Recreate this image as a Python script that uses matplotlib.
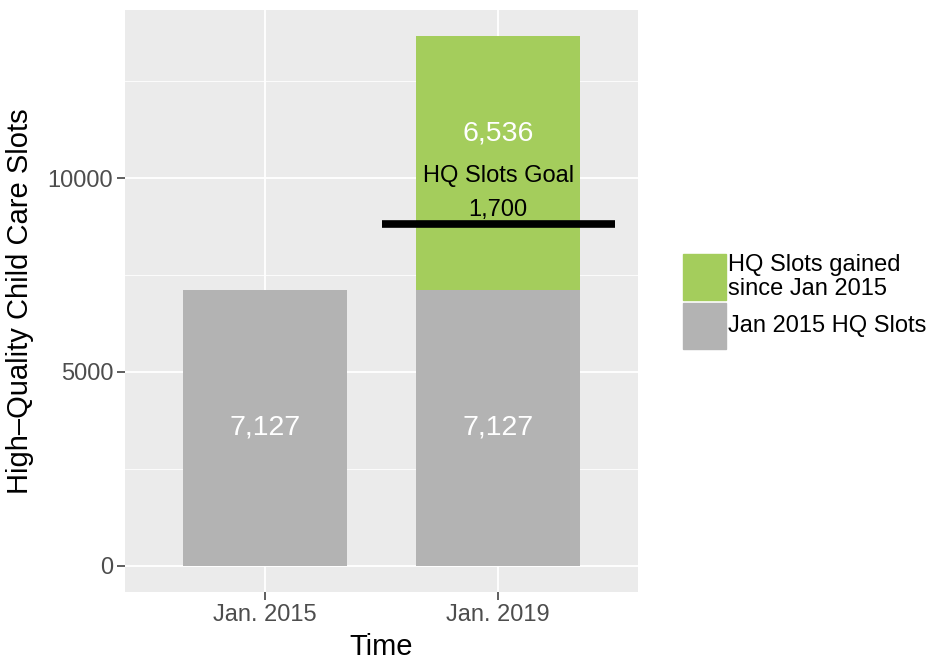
import matplotlib.pyplot as plt
import matplotlib.patches as mpatches

plt.rcParams['font.family'] = ['Liberation Sans', 'DejaVu Sans']

# data
categories = ['Jan. 2015', 'Jan. 2019']
base_slots = [7127, 7127]
gained_slots = [0, 6536]
goal_extra = 1700
gained_label_y = 11150
goal_text_y = 10060
goal_num_y = 9170
legend_labels = ['HQ Slots gained\nsince Jan 2015', 'Jan 2015 HQ Slots']

green = '#A4CD5C'
grey = '#B3B3B3'
W, H = 930, 660

fig = plt.figure(figsize=(9.3, 6.6), dpi=100)
ax = fig.add_axes([125 / W, 1 - 592 / H, 513 / W, 582 / H])
ax.set_facecolor('#EBEBEB')

x = range(len(categories))
ax.bar(x, base_slots, width=0.7, color=grey, zorder=2)
ax.bar(x, gained_slots, width=0.7, bottom=base_slots, color=green, zorder=2)

# labels inside bars
for i, v in enumerate(base_slots):
    ax.text(i, v / 2, f'{v:,}', color='white', fontsize=20.5, ha='center', va='center', zorder=4)
ax.text(1, gained_label_y, f'{gained_slots[1]:,}', color='white', fontsize=20.5,
        ha='center', va='center', zorder=4)

# goal line
goal = base_slots[0] + goal_extra
ax.plot([0.5, 1.5], [goal, goal], color='black', linewidth=5.5, solid_capstyle='butt', zorder=3)
ax.text(1, goal_text_y, 'HQ Slots Goal', fontsize=17, ha='center', va='center', zorder=4)
ax.text(1, goal_num_y, f'{goal_extra:,}', fontsize=17, ha='center', va='center', zorder=4)

top = base_slots[1] + gained_slots[1]
pad = top * 0.05
ax.set_ylim(-pad, top + pad)
ax.set_xlim(-0.6, 1.6)

ax.set_yticks([0, 5000, 10000])
ax.set_yticks([2500, 7500, 12500], minor=True)
ax.set_xticks(list(x))
ax.set_xticklabels(categories)
ax.grid(True, which='major', color='white', linewidth=1.3, zorder=0)
ax.grid(True, which='minor', axis='y', color='white', linewidth=0.6, zorder=0)
ax.set_axisbelow(True)
for s in ax.spines.values():
    s.set_visible(False)
ax.tick_params(which='major', length=5.5, width=1.1, color='#333333', labelcolor='#4D4D4D',
               labelsize=17, pad=3)
ax.tick_params(which='minor', length=0)

ax.set_xlabel('Time', fontsize=21, labelpad=5)
ax.set_ylabel('High\u2013Quality Child Care Slots', fontsize=21, labelpad=10)

# legend, drawn by hand in figure pixels
keys = [(green, 254), (grey, 303)]
for (col, y0), lab in zip(keys, legend_labels):
    fig.add_artist(mpatches.Rectangle((683 / W, 1 - (y0 + 46) / H), 43 / W, 46 / H,
                                      color=col, transform=fig.transFigure))
    fig.text(728 / W, 1 - (y0 + 23) / H, lab, fontsize=17, ha='left', va='center',
             linespacing=1.1)

fig.savefig('out.png', dpi=100)
